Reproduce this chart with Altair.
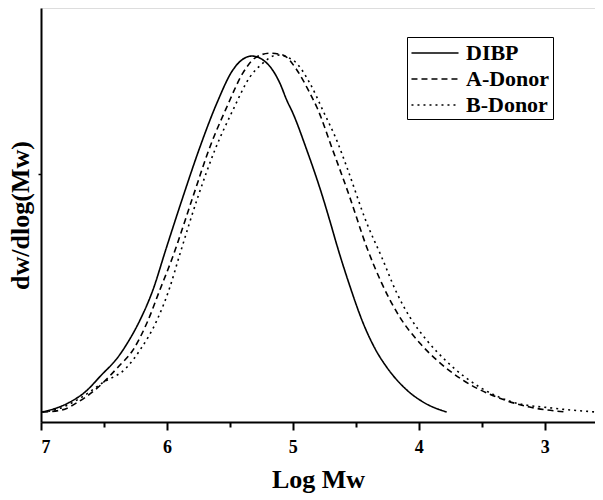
import altair as alt
import pandas as pd

series_names = ["DIBP", "A-Donor", "B-Donor"]

dibp_x = [6.99, 6.786, 6.651, 6.52, 6.389, 6.317, 6.214, 6.111, 6.01, 5.873, 5.738, 5.603, 5.476,
          5.325, 5.206, 5.103, 5.048, 5.0, 4.889, 4.841, 4.786, 4.70, 4.651, 4.548, 4.444, 4.35,
          4.246, 4.095, 3.95, 3.778]
dibp_y = [0.0, 0.025, 0.056, 0.104, 0.154, 0.192, 0.258, 0.343, 0.455, 0.604, 0.744, 0.868, 0.961,
          1.0, 0.980, 0.924, 0.876, 0.840, 0.736, 0.688, 0.630, 0.53, 0.47, 0.355, 0.252, 0.18,
          0.122, 0.062, 0.025, 0.0]

a_x = [6.99, 6.833, 6.706, 6.571, 6.468, 6.389, 6.270, 6.159, 6.056, 5.96, 5.794, 5.659, 5.524,
       5.397, 5.302, 5.183, 5.079, 4.968, 4.865, 4.81, 4.683, 4.548, 4.413, 4.294, 4.151, 3.992,
       3.857, 3.651, 3.381, 3.119, 2.825]
a_y = [0.0, 0.006, 0.028, 0.062, 0.096, 0.126, 0.174, 0.25, 0.343, 0.430, 0.604, 0.744, 0.857,
       0.952, 0.994, 1.008, 1.003, 0.961, 0.896, 0.857, 0.736, 0.604, 0.463, 0.362, 0.267, 0.194,
       0.146, 0.090, 0.042, 0.014, 0.0]

b_x = [6.99, 6.889, 6.675, 6.516, 6.32, 6.214, 6.079, 5.976, 5.90, 5.754, 5.619, 5.476, 5.341,
       5.238, 5.127, 5.0, 4.865, 4.762, 4.643, 4.571, 4.413, 4.294, 4.175, 4.071, 3.937, 3.778,
       3.516, 3.254, 2.937, 2.587]
b_y = [0.0, 0.006, 0.042, 0.081, 0.125, 0.174, 0.258, 0.351, 0.44, 0.604, 0.736, 0.848, 0.941,
       0.980, 1.003, 0.989, 0.924, 0.848, 0.756, 0.688, 0.531, 0.435, 0.335, 0.267, 0.202, 0.142,
       0.070, 0.028, 0.011, 0.0]

major_ticks = [7, 6, 5, 4, 3]
minor_ticks = [6.5, 5.5, 4.5, 3.5]
y_tick = [0.669]

rows = []
for name, xs, ys in zip(series_names, [dibp_x, a_x, b_x], [dibp_y, a_y, b_y]):
    for i, (xv, yv) in enumerate(zip(xs, ys)):
        rows.append({"series": name, "logmw": xv, "dw": yv, "idx": i})
df = pd.DataFrame(rows)

FONT = "Liberation Serif"
xscale = alt.Scale(domain=[7, 2.6], nice=False, zero=False)
yscale = alt.Scale(domain=[-0.028, 1.135], nice=False, zero=False)

lines = alt.Chart(df).mark_line(color="black", strokeWidth=1.6, interpolate="monotone").encode(
    x=alt.X("logmw:Q", scale=xscale,
            axis=alt.Axis(values=major_ticks, format="d", title="Log Mw", orient="bottom",
                          labelFont=FONT, labelFontWeight="bold", labelFontSize=18,
                          labelColor="black", labelPadding=8, tickSize=8, tickWidth=2,
                          tickColor="black", domainWidth=2, domainColor="black",
                          titleFont=FONT, titleFontWeight="bold", titleFontSize=26,
                          titleColor="black", titlePadding=10, grid=False)),
    y=alt.Y("dw:Q", scale=yscale,
            axis=alt.Axis(values=y_tick, labels=False, tickSize=3, tickWidth=1.5,
                          tickColor="black", domainWidth=2, domainColor="black",
                          title="dw/dlog(Mw)", titleFont=FONT, titleFontWeight="bold",
                          titleFontSize=26, titleColor="black", titlePadding=4, grid=False)),
    strokeDash=alt.StrokeDash("series:N",
        scale=alt.Scale(domain=series_names, range=[[1, 0], [6, 4], [2, 4]]),
        legend=alt.Legend(orient="none", legendX=366, legendY=29, title=None,
                          strokeColor="black", fillColor="white", padding=3,
                          symbolType="M-1.96,0L1.96,0", symbolSize=576,
                          symbolStrokeWidth=1.5, symbolStrokeColor="black",
                          symbolOffset=12, labelOffset=18,
                          labelFont=FONT, labelFontWeight="bold", labelFontSize=22,
                          labelColor="black", rowPadding=2)),
    order="idx:Q",
)

minor = alt.Chart(df).mark_line(opacity=0).encode(
    x=alt.X("logmw:Q", scale=xscale,
            axis=alt.Axis(values=minor_ticks, labels=False, domain=False, title=None,
                          orient="bottom", tickSize=5, tickWidth=2, tickColor="black",
                          grid=False)),
    y=alt.Y("dw:Q", scale=yscale, axis=None),
    detail="series:N",
    order="idx:Q",
)

chart = alt.layer(lines, minor).resolve_axis(x="independent", y="independent").properties(
    width=554, height=414,
    autosize=alt.AutoSizeParams(type="none"),
    padding={"left": 33, "top": 0, "right": 0, "bottom": 78},
).configure_view(stroke=None).configure(background="white")

chart.save("out.html", embed_options={"renderer": "svg", "actions": False})
